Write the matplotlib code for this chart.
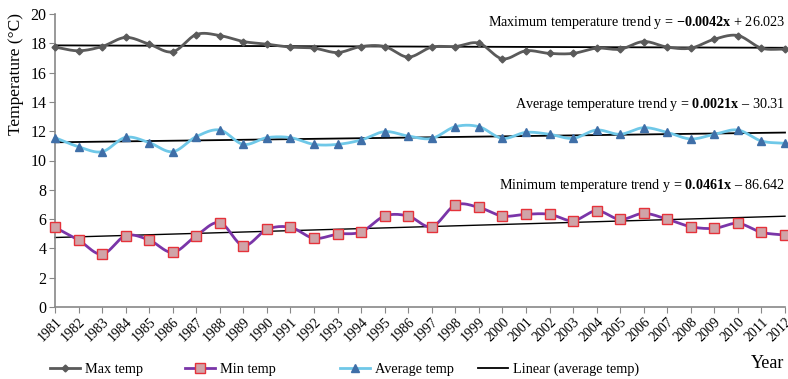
import numpy as np
import matplotlib
matplotlib.use("Agg")
import matplotlib.pyplot as plt
from matplotlib.lines import Line2D

plt.rcParams['font.family'] = ['Liberation Serif', 'DejaVu Serif']
plt.rcParams['mathtext.fontset'] = 'custom'
plt.rcParams['mathtext.rm'] = 'Liberation Serif'
plt.rcParams['mathtext.bf'] = 'Liberation Serif:bold'

years = list(range(1981, 2013))
tick_labels = ['1981', '1982', '1983', '1984', '1985', '1986', '1987', '1988', '1989', '1990',
               '1991', '1992', '1993', '1994', '1995', '1986', '1997', '1998', '1999', '2000',
               '2001', '2002', '2003', '2004', '2005', '2006', '2007', '2008', '2009', '2010',
               '2011', '2012']
max_temp = [17.74, 17.49, 17.78, 18.40, 17.94, 17.42, 18.60, 18.53, 18.12, 17.94,
            17.74, 17.67, 17.37, 17.78, 17.78, 17.06, 17.74, 17.78, 18.01, 16.94,
            17.49, 17.31, 17.31, 17.67, 17.60, 18.12, 17.74, 17.67, 18.28, 18.53,
            17.67, 17.60]
avg_temp = [11.56, 10.94, 10.60, 11.58, 11.22, 10.60, 11.63, 12.08, 11.10, 11.56,
            11.56, 11.10, 11.10, 11.40, 11.97, 11.67, 11.51, 12.31, 12.31, 11.51,
            11.92, 11.79, 11.51, 12.08, 11.79, 12.24, 11.92, 11.47, 11.79, 12.08,
            11.33, 11.17]
min_temp = [5.44, 4.57, 3.60, 4.87, 4.57, 3.73, 4.87, 5.76, 4.19, 5.30,
            5.44, 4.69, 4.98, 5.12, 6.21, 6.21, 5.48, 6.96, 6.80, 6.21,
            6.33, 6.33, 5.89, 6.57, 5.98, 6.39, 5.99, 5.48, 5.37, 5.71,
            5.10, 4.91]
trend_texts = [r"Maximum temperature trend y = $\mathbf{-0.0042x}$ + 26.023",
               r"Average temperature trend y = $\mathbf{0.0021x}$ – 30.31",
               r"Minimum temperature trend y = $\mathbf{0.0461x}$ – 86.642"]
legend_labels = ['Max temp', 'Min temp', 'Average temp', 'Linear (average temp)']


def smooth(x, y, n=20):
    x = np.asarray(x, float); y = np.asarray(y, float)
    px = np.concatenate([[2 * x[0] - x[1]], x, [2 * x[-1] - x[-2]]])
    py = np.concatenate([[2 * y[0] - y[1]], y, [2 * y[-1] - y[-2]]])
    xs, ys = [], []
    t = np.linspace(0, 1, n, endpoint=False)
    for i in range(1, len(px) - 2):
        p0, p1, p2, p3 = py[i - 1], py[i], py[i + 1], py[i + 2]
        q0, q1, q2, q3 = px[i - 1], px[i], px[i + 1], px[i + 2]
        ys.append(0.5 * ((2 * p1) + (-p0 + p2) * t + (2 * p0 - 5 * p1 + 4 * p2 - p3) * t ** 2
                         + (-p0 + 3 * p1 - 3 * p2 + p3) * t ** 3))
        xs.append(0.5 * ((2 * q1) + (-q0 + q2) * t + (2 * q0 - 5 * q1 + 4 * q2 - q3) * t ** 2
                         + (-q0 + 3 * q1 - 3 * q2 + q3) * t ** 3))
    xs.append([x[-1]]); ys.append([y[-1]])
    return np.concatenate(xs), np.concatenate(ys)


W, H = 788, 379
fig = plt.figure(figsize=(W / 100, H / 100), dpi=100)
ax = fig.add_axes([55 / W, 72 / H, 730 / W, 293 / H])

c_max = '#5a5a5a'
c_avg = '#6fc8e8'
c_avg_m = '#3f6fa8'
c_min = '#7a35a8'
c_min_f = '#d0a4a8'
c_min_e = '#e5323a'

x = np.array(years, float)

# trend lines
for series in (max_temp, avg_temp, min_temp):
    k, b = np.polyfit(x, series, 1)
    lw = 1.3 if series is not min_temp else 1.0
    ax.plot([x[0], x[-1]], [k * x[0] + b, k * x[-1] + b], color='black', lw=lw, zorder=2,
            clip_on=False)

sx, sy = smooth(x, max_temp)
ax.plot(sx, sy, color=c_max, lw=2.0, zorder=3, clip_on=False)
ax.plot(x, max_temp, ls='none', marker='D', ms=3.5, color=c_max, zorder=4, clip_on=False)

sx, sy = smooth(x, avg_temp)
ax.plot(sx, sy, color=c_avg, lw=2.0, zorder=3, clip_on=False)
ax.plot(x, avg_temp, ls='none', marker='^', ms=6, color=c_avg_m, zorder=4, clip_on=False)

sx, sy = smooth(x, min_temp)
ax.plot(sx, sy, color=c_min, lw=2.0, zorder=3, clip_on=False)
ax.plot(x, min_temp, ls='none', marker='s', ms=6.5, mfc=c_min_f, mec=c_min_e, mew=1.0,
        zorder=4, clip_on=False)

ax.set_xlim(1981, 2012)
ax.set_ylim(0, 20)
ax.set_yticks(range(0, 21, 2))
ax.set_xticks(years)
ax.set_xticklabels(tick_labels, rotation=45, ha='right', rotation_mode='anchor', fontsize=10)
ax.tick_params(axis='y', labelsize=11.5, length=4, color='#888888', pad=2)
ax.tick_params(axis='x', length=4, color='#888888', pad=2)
for s in ('top', 'right'):
    ax.spines[s].set_visible(False)
for s in ('left', 'bottom'):
    ax.spines[s].set_color('#888888')
    ax.spines[s].set_linewidth(1.2)

fig.text(16 / W, 1 - 74 / H, 'Temperature (°C)', rotation=90, ha='center', va='center',
         fontsize=12.5)

ax.text(2012, 19.45, trend_texts[0], ha='right', va='center', fontsize=10.2)
ax.text(2012, 13.8, trend_texts[1], ha='right', va='center', fontsize=10.2)
ax.text(2012, 8.3, trend_texts[2], ha='right', va='center', fontsize=10.2)

fig.text(784 / W, 1 - 363 / H, 'Year', ha='right', va='center', fontsize=13)

handles = [
    Line2D([], [], color=c_max, lw=2, marker='D', ms=3.5),
    Line2D([], [], color=c_min, lw=2, marker='s', ms=6.5, mfc=c_min_f, mec=c_min_e),
    Line2D([], [], color=c_avg, lw=2, marker='^', ms=6, mfc=c_avg_m, mec=c_avg_m),
    Line2D([], [], color='black', lw=1.3),
]
starts = [50, 185, 340, 478]
for h, lab, xs0 in zip(handles, legend_labels, starts):
    fig.legend([h], [lab], loc='center left', bbox_to_anchor=(xs0 / W, 1 - 369 / H),
               frameon=False, fontsize=10.3, handlelength=2.1, handletextpad=0.35,
               borderaxespad=0, borderpad=0)

fig.savefig('out.png', dpi=100)
